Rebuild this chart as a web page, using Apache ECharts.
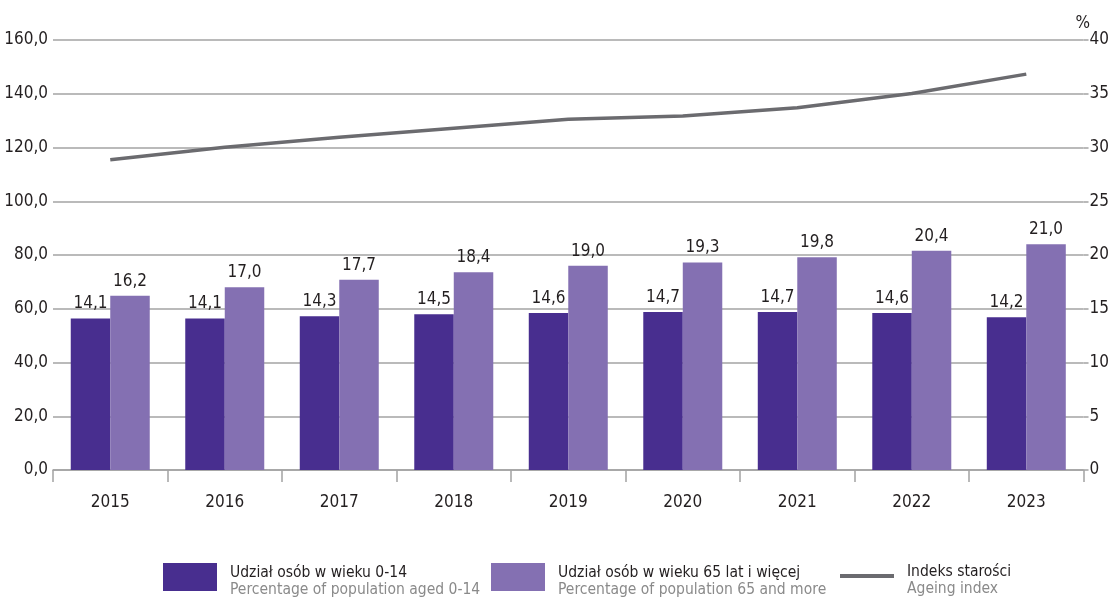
<!DOCTYPE html>
<html><head><meta charset="utf-8">
<script src="https://cdn.jsdelivr.net/npm/echarts@6/dist/echarts.min.js"></script>
<style>html,body{margin:0;padding:0;background:#fff}#c{width:1112px;height:599px}</style>
</head><body><div id="c"></div>
<script>
const years = ['2015','2016','2017','2018','2019','2020','2021','2022','2023'];
const share0to14 = [14.1,14.1,14.3,14.5,14.6,14.7,14.7,14.6,14.2];
const share65plus = [16.2,17.0,17.7,18.4,19.0,19.3,19.8,20.4,21.0];
const ageingIndex = [115.4,120.1,123.8,127.2,130.5,131.7,134.8,140.1,147.3];
const leftTicks = {min:0,max:160,interval:20};
const rightTicks = {min:0,max:40,interval:5};
const names = {
  a:['Udział osób w wieku 0-14','Percentage of population aged 0-14'],
  b:['Udział osób w wieku 65 lat i więcej','Percentage of population 65 and more'],
  c:['Indeks starości','Ageing index']
};
const FONT = "'Liberation Sans Narrow','DejaVu Sans Condensed','Roboto',sans-serif";
const dark = '#482e8f', light = '#8470b2', lineC = '#6b6b6f', gridC = '#a3a3a3', txt = '#231f20';
const fmt1 = v => Number(v).toFixed(1).replace('.',',');
const rich = {
  t:{fontFamily:FONT,fontSize:15.5,color:txt,lineHeight:26,verticalAlign:'bottom'},
  s:{fontFamily:FONT,fontSize:15.5,color:'#8a8a8a',lineHeight:18}
};
function lg(key,left,top,icon,h){
  return {show:true,left:left,top:top,padding:0,itemWidth:54,itemHeight:h,itemGap:0,icon:icon,
    data:[{name:names[key][0],icon:icon}],
    formatter:n=>'{t|'+names[key][0]+'}\n{s|'+names[key][1]+'}',
    textStyle:{rich:rich,padding:[0,0,0,8]},selectedMode:false};
}
const chart = echarts.init(document.getElementById('c'),null,{renderer:'canvas'});
chart.setOption({
  animation:false,
  textStyle:{fontFamily:FONT},
  grid:{left:53,right:28,top:40,bottom:129,containLabel:false},
  legend:[lg('a',163,563,'rect',28),lg('b',491,563,'rect',28),lg('c',840,564,'rect',4)],
  xAxis:{type:'category',data:years,
    axisLine:{lineStyle:{color:gridC,width:1.5}},
    axisTick:{show:true,length:12,lineStyle:{color:gridC,width:1.5}},
    axisLabel:{color:txt,fontSize:17,fontFamily:FONT,margin:24}},
  yAxis:[
    {type:'value',min:leftTicks.min,max:leftTicks.max,interval:leftTicks.interval,
     axisLine:{show:false},axisTick:{show:false},
     splitLine:{lineStyle:{color:gridC,width:1.5}},
     axisLabel:{formatter:fmt1,color:txt,fontSize:17,fontFamily:FONT,margin:5}},
    {type:'value',min:rightTicks.min,max:rightTicks.max,interval:rightTicks.interval,position:'right',
     name:'%',nameLocation:'end',nameGap:8,nameTextStyle:{color:txt,fontSize:17,fontFamily:FONT,align:'left',padding:[0,0,0,-8]},
     axisLine:{show:false},axisTick:{show:true,length:5,lineStyle:{color:gridC,width:1.5}},
     splitLine:{show:false},
     axisLabel:{color:txt,fontSize:17,fontFamily:FONT,margin:6}}
  ],
  series:[
    {name:names.a[0],type:'bar',yAxisIndex:1,data:share0to14,barWidth:39.5,barGap:'0%',
     itemStyle:{color:dark},
     label:{show:true,position:'top',distance:6,formatter:p=>fmt1(p.value),color:txt,fontSize:17,fontFamily:FONT}},
    {name:names.b[0],type:'bar',yAxisIndex:1,data:share65plus,barWidth:39.5,barGap:'0%',
     itemStyle:{color:light},
     label:{show:true,position:'top',distance:6,formatter:p=>fmt1(p.value),color:txt,fontSize:17,fontFamily:FONT}},
    {name:names.c[0],type:'line',yAxisIndex:0,data:ageingIndex,symbol:'none',
     lineStyle:{color:lineC,width:3.5},itemStyle:{color:lineC}}
  ]
});
</script></body></html>
